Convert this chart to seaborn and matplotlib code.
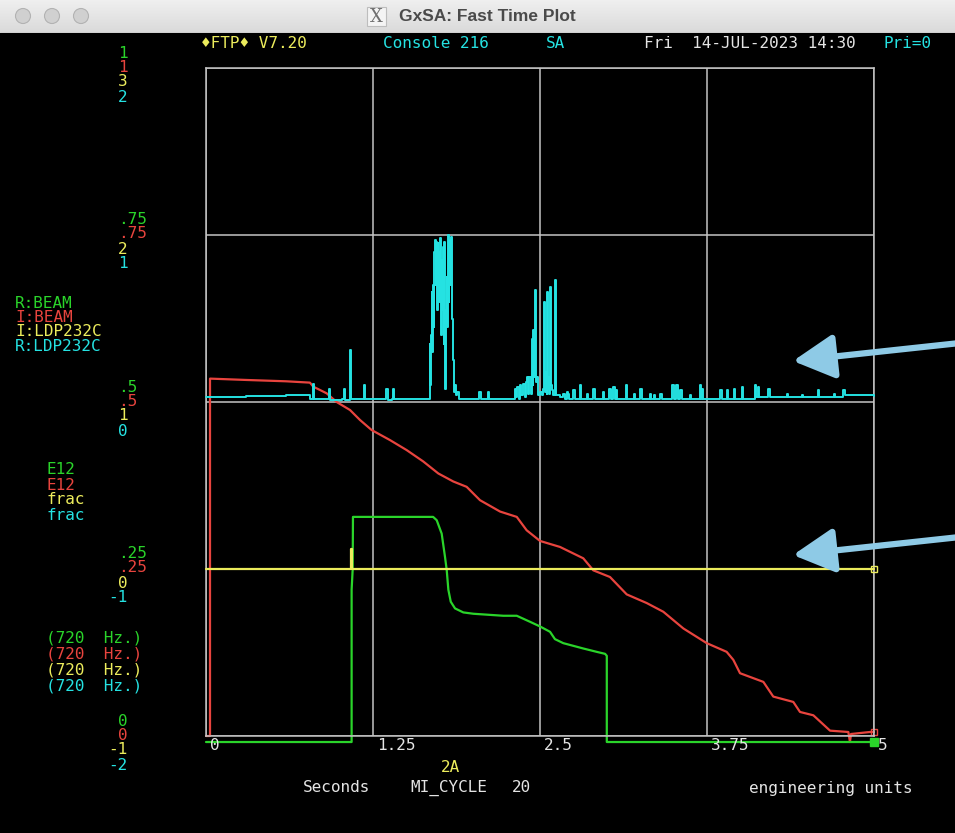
import matplotlib
matplotlib.use("Agg")
import matplotlib.pyplot as plt
import seaborn as sns
import numpy as np
import pandas as pd
from matplotlib.patches import Circle, Rectangle
from matplotlib.colors import LinearSegmentedColormap

# ---- data ----
# R:BEAM (green, 0..1 E12)
green_t = [0.0, 1.09, 1.09, 1.098, 1.10, 1.70, 1.727, 1.764, 1.789, 1.802, 1.814, 1.832,
           1.864, 1.926, 2.001, 2.225, 2.326, 2.425, 2.50, 2.575, 2.612, 2.674, 2.824,
           2.924, 2.987, 3.0, 3.0, 5.0]
green_v = [-0.009, -0.009, 0.219, 0.25, 0.328, 0.328, 0.323, 0.303, 0.268, 0.248, 0.219, 0.201,
           0.191, 0.185, 0.183, 0.180, 0.180, 0.171, 0.164, 0.156, 0.145, 0.139, 0.131,
           0.126, 0.123, 0.12, -0.009, -0.009]

# I:BEAM (red, 0..1 E12)
red_t = [0.0, 0.03, 0.03, 0.30, 0.60, 0.778, 0.803, 0.903, 0.978, 1.078, 1.153, 1.240, 1.377,
         1.502, 1.626, 1.739, 1.851, 1.951, 2.051, 2.201, 2.326, 2.400, 2.500, 2.650, 2.824,
         2.899, 3.024, 3.149, 3.299, 3.423, 3.573, 3.748, 3.897, 3.947, 3.997, 4.172, 4.246,
         4.396, 4.446, 4.546, 4.671, 4.808, 4.820, 4.828, 4.970, 5.0]
red_v = [0.0, 0.0, 0.535, 0.533, 0.531, 0.529, 0.523, 0.513, 0.500, 0.488, 0.473, 0.458, 0.443,
         0.428, 0.411, 0.393, 0.381, 0.373, 0.353, 0.336, 0.328, 0.308, 0.292, 0.283, 0.266,
         0.248, 0.238, 0.212, 0.199, 0.186, 0.161, 0.139, 0.126, 0.114, 0.094, 0.081, 0.059,
         0.051, 0.036, 0.031, 0.008, 0.006, -0.009, 0.003, 0.006, 0.006]

# I:LDP232C (yellow, -1..3 frac)
yellow_t = [0.0, 1.085, 1.085, 1.095, 1.095, 5.0]
yellow_v = [0.0, 0.0, 0.12, 0.12, 0.0, 0.0]

# R:LDP232C (cyan, -2..2 frac)
cyan_t = [0.00, 0.30, 0.60, 0.76, 0.78, 0.795, 0.80, 0.805, 0.90, 0.92, 0.93, 1.02, 1.03, 1.04,
          1.075, 1.08, 1.085, 1.17, 1.18, 1.19, 1.34, 1.35, 1.36, 1.395, 1.40, 1.41, 1.50, 1.60,
          1.67, 1.677, 1.680, 1.684, 1.689, 1.694, 1.699, 1.704, 1.709, 1.714, 1.718, 1.722,
          1.727, 1.731, 1.735, 1.739, 1.743, 1.747, 1.752, 1.756, 1.760, 1.764, 1.768, 1.772,
          1.777, 1.781, 1.785, 1.789, 1.793, 1.797, 1.801, 1.805, 1.810, 1.814, 1.818, 1.822,
          1.826, 1.830, 1.835, 1.839, 1.843, 1.846, 1.850, 1.854, 1.858, 1.864, 1.870, 1.880,
          1.89, 1.98, 2.04, 2.046, 2.055, 2.10, 2.11, 2.12, 2.20, 2.30, 2.31, 2.32, 2.33, 2.34,
          2.35, 2.36, 2.375, 2.385, 2.395, 2.40, 2.41, 2.42, 2.43, 2.438, 2.444, 2.45, 2.456,
          2.463, 2.469, 2.475, 2.485, 2.50, 2.513, 2.52, 2.533, 2.54, 2.545, 2.55, 2.555, 2.56,
          2.565, 2.57, 2.575, 2.58, 2.587, 2.60, 2.612, 2.62, 2.65, 2.675, 2.685, 2.70, 2.712,
          2.72, 2.75, 2.76, 2.80, 2.81, 2.85, 2.86, 2.90, 2.91, 2.97, 2.98, 3.02, 3.03, 3.05,
          3.06, 3.07, 3.08, 3.14, 3.15, 3.20, 3.21, 3.25, 3.26, 3.32, 3.33, 3.35, 3.36, 3.40,
          3.41, 3.49, 3.50, 3.52, 3.53, 3.55, 3.56, 3.62, 3.63, 3.70, 3.705, 3.71, 3.72, 3.85,
          3.86, 3.90, 3.91, 3.95, 3.96, 4.01, 4.02, 4.11, 4.12, 4.13, 4.14, 4.21, 4.22, 4.35,
          4.36, 4.46, 4.47, 4.58, 4.59, 4.70, 4.71, 4.77, 4.78, 4.82, 4.96, 5.00]
cyan_v = [0.03, 0.035, 0.04, 0.04, 0.02, 0.015, 0.11, 0.015, 0.015, 0.08, 0.01, 0.015, 0.075, 0.01,
          0.015, 0.31, 0.015, 0.015, 0.10, 0.015, 0.015, 0.08, 0.01, 0.015, 0.075, 0.015, 0.02, 0.015,
          0.02, 0.35, 0.10, 0.40, 0.66, 0.30, 0.70, 0.45, 0.90, 0.97, 0.70, 0.96,
          0.93, 0.55, 0.95, 0.65, 0.90, 0.60, 0.98, 0.50, 0.40, 0.45, 0.85, 0.55,
          0.93, 0.35, 0.96, 0.08, 0.20, 0.55, 0.75, 0.45, 0.95, 1.00, 0.60, 0.90,
          0.97, 0.70, 0.99, 0.95, 0.50, 0.33, 0.25, 0.12, 0.06, 0.10, 0.04, 0.06,
          0.02, 0.015, 0.015, 0.06, 0.015, 0.015, 0.06, 0.015, 0.02, 0.02, 0.08, 0.03, 0.09, 0.02,
          0.10, 0.04, 0.11, 0.03, 0.12, 0.15, 0.05, 0.15, 0.05, 0.38, 0.10, 0.43, 0.15,
          0.67, 0.12, 0.15, 0.04, 0.06, 0.04, 0.08, 0.60, 0.06, 0.18, 0.05, 0.66, 0.08,
          0.15, 0.05, 0.69, 0.10, 0.07, 0.04, 0.73, 0.04, 0.03, 0.05, 0.02, 0.06, 0.05,
          0.02, 0.07, 0.02, 0.10, 0.02, 0.05, 0.02, 0.08, 0.02, 0.06, 0.02, 0.08, 0.02, 0.09,
          0.02, 0.07, 0.02, 0.10, 0.02, 0.05, 0.02, 0.08, 0.02, 0.05, 0.02, 0.04, 0.02, 0.05,
          0.02, 0.10, 0.02, 0.10, 0.02, 0.07, 0.02, 0.04, 0.02, 0.10, 0.02, 0.08, 0.02, 0.07,
          0.02, 0.07, 0.02, 0.08, 0.02, 0.09, 0.02, 0.10, 0.03, 0.09, 0.03, 0.08, 0.03, 0.05,
          0.03, 0.04, 0.03, 0.07, 0.03, 0.05, 0.03, 0.07, 0.04, 0.04, 0.04, 0.035]

names = ["R:BEAM", "I:BEAM", "I:LDP232C", "R:LDP232C"]
units = ["E12", "E12", "frac", "frac"]
rates = ["(720  Hz.)"] * 4
tick_frac = [0, 0.25, 0.5, 0.75, 1]
green_ticks = ["0", ".25", ".5", ".75", "1"]
red_ticks = ["0", ".25", ".5", ".75", "1"]
yellow_ticks = ["-1", "0", "1", "2", "3"]
cyan_ticks = ["-2", "-1", "0", "1", "2"]
x_ticks = [0, 1.25, 2.5, 3.75, 5]
x_labels = ["0", "1.25", "2.5", "3.75", "5"]

GREEN, RED, YELLOW, CYAN = "#2ad42a", "#e8443e", "#ecec5c", "#25e2e2"
GRID = "#c4c4c4"
WHITE = "#e4e4e4"
W, H = 955, 833


def fx(x):
    return x / W


def fy(y):
    return 1 - y / H


sns.set_theme(style="dark", rc={"axes.facecolor": "black", "figure.facecolor": "black"})
plt.rcParams["font.family"] = ["DejaVu Sans Mono", "DejaVu Sans"]
plt.rcParams["font.size"] = 11.5

fig = plt.figure(figsize=(9.55, 8.33), dpi=100, facecolor="black")
ax = fig.add_axes([fx(206), fy(736), 668 / W, 668 / H])
ax2 = ax.twinx()
ax3 = ax.twinx()

sns.lineplot(x=red_t, y=red_v, ax=ax, color=RED, lw=1.6, estimator=None, sort=False, clip_on=False)
sns.lineplot(x=green_t, y=green_v, ax=ax, color=GREEN, lw=1.6, estimator=None, sort=False, clip_on=False)
sns.lineplot(x=yellow_t, y=yellow_v, ax=ax2, color=YELLOW, lw=1.6, estimator=None, sort=False, clip_on=False)
# sampled signal: hold each reading until the next one
sns.lineplot(x=cyan_t, y=cyan_v, ax=ax3, color=CYAN, lw=1.4, estimator=None, sort=False,
             clip_on=False, drawstyle="steps-post")

# end-of-trace cursors
ax.plot([green_t[-1]], [green_v[-1]], marker="s", ms=6, color=GREEN, clip_on=False)
ax.plot([red_t[-1]], [red_v[-1]], marker="s", ms=5, mfc="none", mec=RED, clip_on=False)
ax2.plot([yellow_t[-1]], [yellow_v[-1]], marker="s", ms=5, mfc="none", mec=YELLOW, clip_on=False)

ax.set_xlim(0, 5)
ax.set_ylim(0, 1)
ax2.set_ylim(-1, 3)
ax3.set_ylim(-2, 2)
ax.set_xticks(x_ticks)
ax.set_yticks(tick_frac)
ax.grid(True, color=GRID, lw=1.1)
ax.set_axisbelow(True)
for a in (ax, ax2, ax3):
    a.set(xlabel="", ylabel="")
    a.tick_params(length=0, labelleft=False, labelright=False, labelbottom=False)
    for s in a.spines.values():
        s.set_visible(a is ax)
        s.set_color(GRID)
        s.set_linewidth(1.1)
ax2.set_yticks([])
ax3.set_yticks([])

# stacked left scale labels
for labels, col, dy in [(green_ticks, GREEN, -15), (red_ticks, RED, -1),
                        (yellow_ticks, YELLOW, 14), (cyan_ticks, CYAN, 29)]:
    for f, lab in zip(tick_frac, labels):
        dx = -88 - (10 if lab.startswith("-") else 0)
        ax.annotate(lab, xy=(0, f), xycoords="axes fraction", xytext=(dx, -dy),
                    textcoords="offset pixels", ha="left", va="center", color=col,
                    annotation_clip=False)

# x labels
for t, lab in zip(x_ticks, x_labels):
    ax.annotate(lab, xy=(t, 0), xycoords=("data", "axes fraction"), xytext=(4, -10),
                textcoords="offset pixels", ha="left", va="center", color=WHITE,
                annotation_clip=False)

# channel legend at the left
cols = [GREEN, RED, YELLOW, CYAN]
for i, c in enumerate(cols):
    fig.text(fx(15), fy(303 + 14.5 * i), names[i], color=c, va="center")
    fig.text(fx(46), fy(470 + 15 * i), units[i], color=c, va="center")
    fig.text(fx(46), fy(638 + 16 * i), rates[i], color=c, va="center")

# header line
fig.text(fx(201), fy(43), "\u2666FTP\u2666 V7.20", color=YELLOW, va="center")
fig.text(fx(383), fy(43), "Console 216", color=CYAN, va="center")
fig.text(fx(546), fy(43), "SA", color=CYAN, va="center")
fig.text(fx(644), fy(43), "Fri  14-JUL-2023 14:30", color=WHITE, va="center")
fig.text(fx(883), fy(43), "Pri=0", color=CYAN, va="center")

# footer
fig.text(fx(441), fy(768), "2A", color=YELLOW, va="center")
fig.text(fx(303), fy(788), "Seconds", color=WHITE, va="center")
fig.text(fx(410), fy(788), "MI_CYCLE", color=WHITE, va="center")
fig.text(fx(512), fy(788), "20", color=WHITE, va="center")
fig.text(fx(749), fy(788), "engineering units", color=WHITE, va="center")

# blue call-out arrows
for tip_y, tail_y in [(361, 343), (555, 537)]:
    fig.add_artist(matplotlib.patches.FancyArrowPatch(
        (fx(960), fy(tail_y)), (fx(793), fy(tip_y)), transform=fig.transFigure,
        arrowstyle="-|>,head_length=1.4,head_width=0.75", mutation_scale=18,
        lw=4.5, color="#8ecae6", shrinkA=0, shrinkB=0))

# window title bar
tb = fig.add_axes([0, fy(33), 1, 33 / H])
grad = np.linspace(0, 1, 33).reshape(-1, 1)
tb.imshow(grad, extent=[0, W, 33, 0], aspect="auto",
          cmap=LinearSegmentedColormap.from_list("tb", ["#efefef", "#dadada"]))
tb.set_xlim(0, W)
tb.set_ylim(33, 0)
tb.axis("off")
tb.axhline(32.5, color="#a8a8a8", lw=1)
for cx in [23, 52, 81]:
    tb.add_patch(Circle((cx, 16), 7.5, fc="#d0d0d0", ec="#b2b2b2", lw=0.8))
tb.add_patch(Rectangle((367, 7), 19, 19, fc="#f4f4f4", ec="#bdbdbd", lw=0.8))
tb.text(376.5, 17, "X", ha="center", va="center", color="#707070", fontsize=13,
        family="DejaVu Serif")
tb.text(399, 16.5, "GxSA: Fast Time Plot", ha="left", va="center", color="#4a4a4a",
        fontsize=12.5, weight="bold", family="Liberation Sans")

fig.savefig("out.png", dpi=100, facecolor="black")
